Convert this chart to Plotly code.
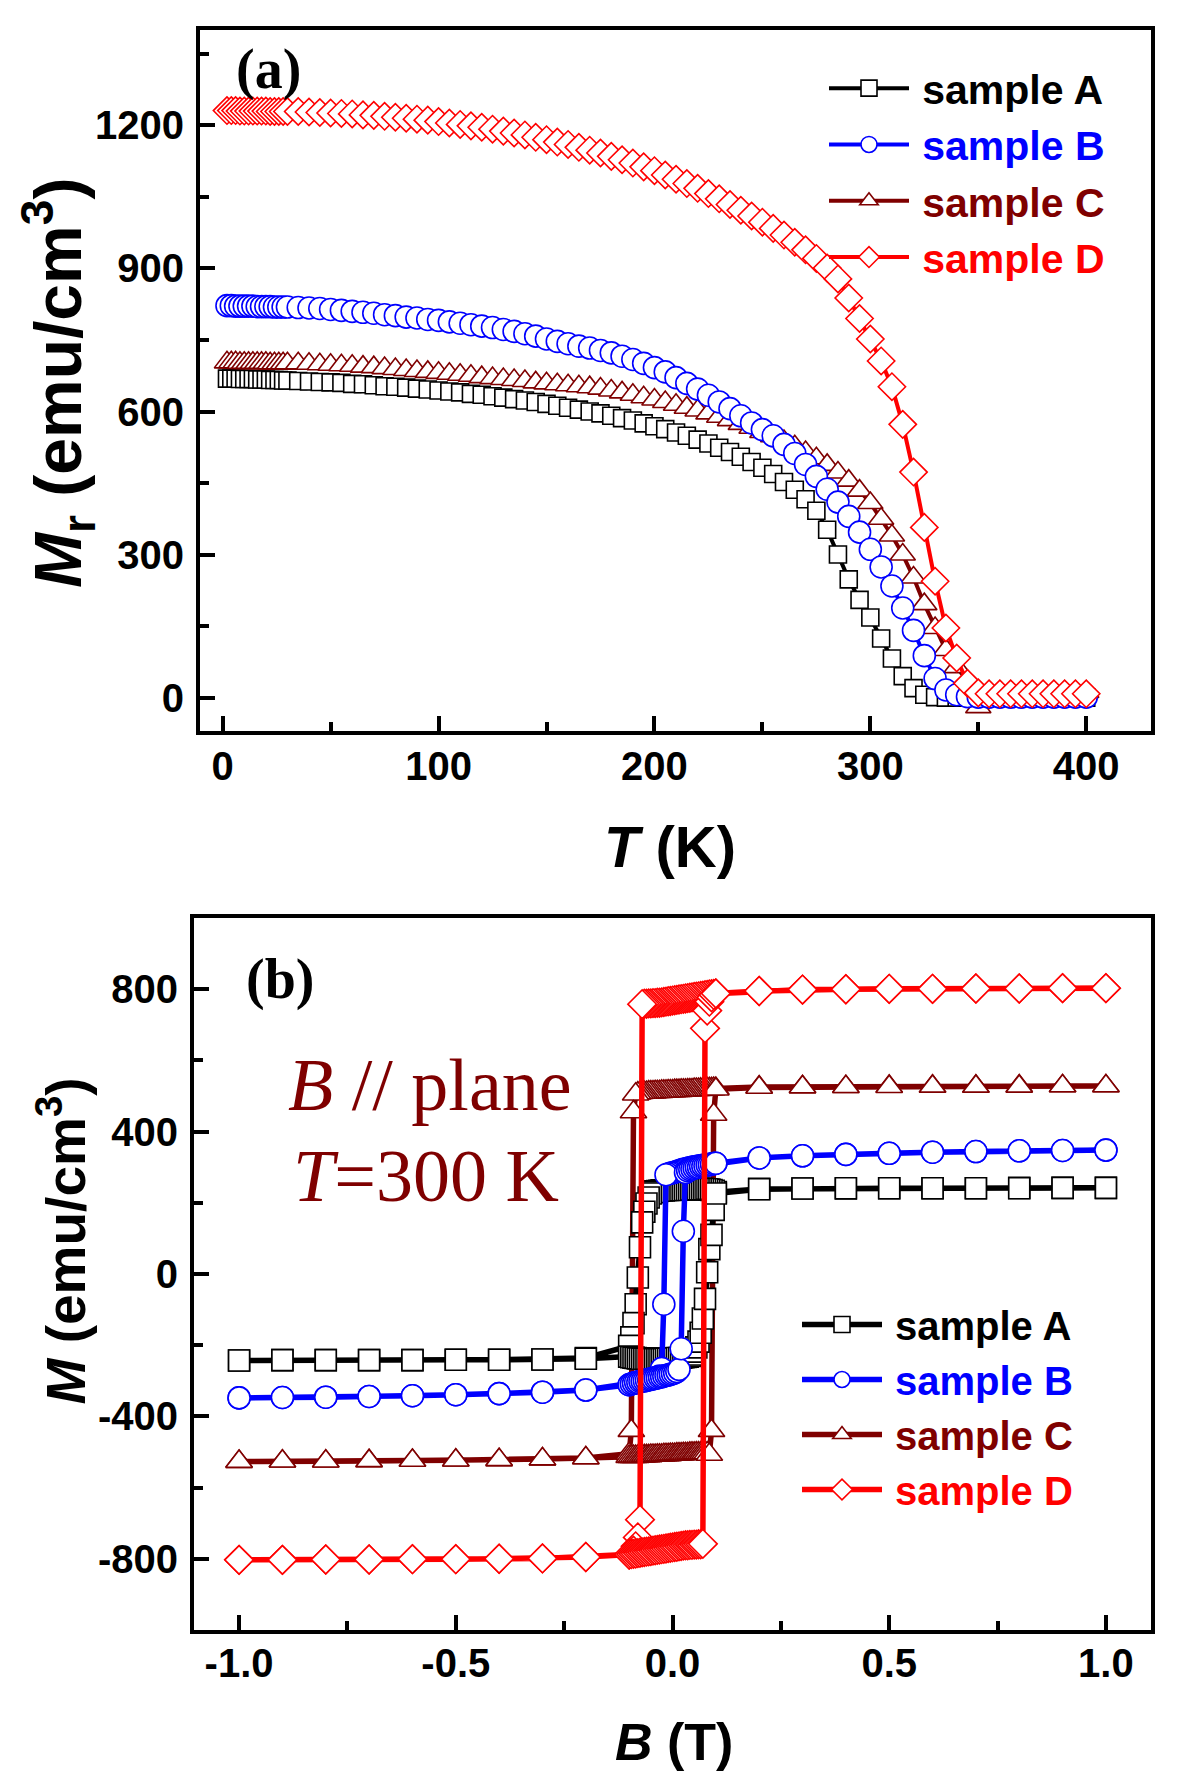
import plotly.graph_objects as go

# ---------------- Panel (a): remanent magnetization vs temperature ----------------
T = [2, 4, 6, 8, 10, 12, 14, 16, 18, 20, 22, 24, 26, 28, 30,
     35, 40, 45, 50, 55, 60, 65, 70, 75, 80, 85, 90, 95, 100,
     105, 110, 115, 120, 125, 130, 135, 140, 145, 150, 155, 160, 165, 170, 175, 180, 185, 190, 195, 200,
     205, 210, 215, 220, 225, 230, 235, 240, 245, 250, 255, 260, 265, 270, 275, 280, 285, 290, 295, 300,
     305, 310, 315, 320, 325, 330, 335, 340, 345, 350, 355, 360, 365, 370, 375, 380, 385, 390, 395, 400]

Mr_A = [669, 669, 669, 668, 668, 668, 668, 667, 667, 667, 666, 666, 666, 665, 665,
        664, 663, 662, 661, 660, 658, 657, 655, 653, 652, 650, 648, 646, 644,
        642, 640, 637, 635, 632, 629, 626, 623, 620, 616, 612, 608, 604, 600, 596, 591, 586, 581, 575, 569,
        563, 556, 549, 541, 533, 524, 515, 505, 494, 482, 469, 452, 436, 416, 392, 352, 300, 248, 205, 168,
        124, 82, 45, 20, 6, 1, 0, 0, 0, 0, 0, 0, 0, 0, 0, 0, 0, 0, 0, 0]

Mr_B = [822, 822, 821, 821, 821, 821, 821, 820, 820, 820, 820, 819, 819, 819, 819,
        818, 817, 816, 814, 812, 810, 808, 806, 803, 801, 798, 796, 793, 791,
        788, 785, 782, 779, 776, 772, 768, 763, 758, 752, 747, 742, 737, 733, 728, 723, 716, 709, 701, 692,
        683, 671, 659, 647, 634, 620, 606, 591, 576, 562, 549, 531, 512, 489, 464, 437, 410, 380, 347, 311,
        274, 234, 188, 141, 88, 40, 16, 6, 2, 1, 1, 1, 1, 1, 1, 1, 1, 1, 1, 1]

Mr_C = [703, 703, 703, 702, 702, 702, 702, 702, 702, 702, 701, 701, 701, 701, 701,
        701, 700, 699, 698, 697, 696, 694, 693, 691, 689, 687, 685, 683, 681,
        679, 677, 675, 672, 670, 668, 666, 664, 661, 659, 657, 655, 653, 651, 648, 644, 640, 635, 630, 625,
        620, 614, 608, 602, 596, 589, 582, 574, 566, 557, 548, 538, 527, 515, 502, 488, 472, 455, 434, 408,
        375, 340, 300, 252, 196, 146, 100, 64, 34, -20, 12, 12, 12, 12, 12, 12, 12, 12, 12, 12]

Mr_D = [1231, 1231, 1231, 1230, 1230, 1230, 1230, 1230, 1230, 1230, 1229, 1229, 1229, 1229, 1229,
        1229, 1228, 1227, 1226, 1225, 1224, 1222, 1221, 1219, 1217, 1215, 1213, 1211, 1208,
        1205, 1202, 1199, 1196, 1192, 1188, 1184, 1180, 1175, 1170, 1165, 1160, 1154, 1148, 1142, 1135, 1128, 1121, 1113, 1105,
        1096, 1087, 1078, 1068, 1057, 1046, 1034, 1022, 1010, 997, 984, 970, 955, 939, 921, 901, 878, 838, 795, 752,
        706, 652, 573, 473, 357, 244, 146, 83, 30, 10, 8, 8, 8, 8, 8, 8, 8, 8, 8, 8]

# ---------------- Panel (b): hysteresis loops at 300 K ----------------
B_desc = [1.0, 0.9, 0.8, 0.7, 0.6, 0.5, 0.4, 0.3, 0.2,
          0.1, 0.095, 0.09, 0.085, 0.08, 0.075, 0.07, 0.065, 0.06, 0.055,
          0.05, 0.045, 0.04, 0.035, 0.03, 0.025, 0.02, 0.015, 0.01, 0.005,
          0.0,
          -0.005, -0.01, -0.015, -0.02, -0.025, -0.03, -0.035, -0.04, -0.045, -0.05,
          -0.055, -0.06, -0.065, -0.07, -0.075, -0.08, -0.085, -0.09, -0.095, -0.1,
          -0.2, -0.3, -0.4, -0.5, -0.6, -0.7, -0.8, -0.9, -1.0]
B_asc = [-1.0, -0.9, -0.8, -0.7, -0.6, -0.5, -0.4, -0.3, -0.2,
         -0.1, -0.095, -0.09, -0.085, -0.08, -0.075, -0.07, -0.065, -0.06, -0.055,
         -0.05, -0.045, -0.04, -0.035, -0.03, -0.025, -0.02, -0.015, -0.01, -0.005,
         0.0,
         0.005, 0.01, 0.015, 0.02, 0.025, 0.03, 0.035, 0.04, 0.045, 0.05,
         0.055, 0.06, 0.065, 0.07, 0.075, 0.08, 0.085, 0.09, 0.095, 0.1,
         0.2, 0.3, 0.4, 0.5, 0.6, 0.7, 0.8, 0.9, 1.0]

M_A_desc = [242, 242, 242, 241, 241, 241, 240, 240, 239,
            230, 234, 236, 237, 238, 238, 239, 239, 239, 239,
            239, 239, 239, 239, 238, 238, 238, 238, 237, 237,
            237,
            236, 236, 236, 235, 235, 234, 233, 232, 230, 226,
            215, 198, 175, 145, 75, -10, -85, -138, -178, -202,
            -236, -240, -241, -241, -242, -242, -242, -242, -243]
M_A_asc = [-243, -242, -242, -242, -242, -241, -241, -240, -238,
           -232, -234, -235, -236, -237, -237, -238, -238, -238, -239,
           -239, -239, -239, -239, -239, -239, -239, -238, -238, -238,
           -237,
           -237, -236, -236, -235, -234, -233, -232, -230, -226, -218,
           -206, -190, -165, -125, -70, 5, 70, 110, 180, 226,
           238, 240, 241, 241, 241, 241, 241, 242, 242]

M_B_desc = [348, 347, 346, 344, 342, 339, 336, 332, 326,
            311, 310, 309, 308, 307, 306, 305, 304, 303, 302,
            301, 300, 298, 297, 295, 294, 292, 290, 288, 286,
            284,
            283, 281, 279, -85, -265, -287, -290, -292, -293, -295,
            -296, -298, -299, -300, -302, -304, -305, -307, -309, -311,
            -326, -332, -336, -339, -342, -344, -346, -347, -348]
M_B_asc = [-348, -347, -346, -344, -342, -339, -336, -332, -326,
           -311, -309, -307, -305, -304, -302, -301, -300, -299, -297,
           -296, -295, -293, -292, -290, -289, -287, -285, -284, -282,
           -280,
           -278, -274, -268, -210, 120, 285, 290, 293, 295, 297,
           299, 300, 302, 303, 304, 306, 307, 308, 310, 311,
           326, 332, 336, 339, 342, 344, 346, 347, 348]

M_C_desc = [528, 528, 528, 527, 527, 527, 526, 526, 525,
            521, 521, 520, 520, 520, 519, 519, 519, 518, 518,
            518, 517, 517, 517, 516, 516, 516, 515, 515, 515,
            514,
            514, 514, 513, 513, 513, 512, 512, 512, 511, 511,
            511, 510, 510, 510, 509, 508, 505, 455, -440, -505,
            -517, -520, -522, -523, -524, -525, -526, -526, -527]
M_C_asc = [-527, -526, -526, -525, -524, -523, -522, -520, -517,
           -513, -513, -513, -513, -512, -512, -512, -511, -511, -511,
           -510, -510, -510, -509, -509, -509, -508, -508, -508, -507,
           -507,
           -507, -506, -506, -506, -505, -505, -505, -504, -504, -504,
           -503, -503, -503, -502, -502, -503, -507, -440, 448, 519,
           524, 525, 526, 526, 527, 527, 527, 528, 528]

M_D_desc = [803, 803, 802, 802, 801, 801, 800, 799, 795,
            788, 787, 786, 785, 784, 783, 782, 781, 780, 779,
            778, 777, 776, 775, 774, 773, 772, 771, 770, 769,
            768,
            767, 766, 765, 764, 763, 762, 762, 761, 761, 760,
            760, 759, 759, 758, -690, -740, -765, -777, -784, -788,
            -795, -799, -800, -801, -801, -802, -802, -803, -803]
M_D_asc = [-803, -803, -802, -802, -801, -801, -800, -799, -795,
           -788, -787, -786, -785, -784, -783, -782, -781, -780, -779,
           -778, -777, -776, -775, -774, -773, -772, -771, -770, -769,
           -768,
           -767, -766, -765, -764, -763, -762, -762, -761, -761, -760,
           -760, -759, -759, -758, 690, 740, 765, 777, 784, 788,
           795, 799, 800, 801, 801, 802, 802, 803, 803]

# tick labels
xa_ticks = [0, 100, 200, 300, 400]
xa_minor = [50, 150, 250, 350]
ya_ticks = [0, 300, 600, 900, 1200]
ya_minor = [150, 450, 750, 1050, 1350]
xb_ticks = [-1.0, -0.5, 0.0, 0.5, 1.0]
xb_labels = ["-1.0", "-0.5", "0.0", "0.5", "1.0"]
xb_minor = [-0.75, -0.25, 0.25, 0.75]
yb_ticks = [-800, -400, 0, 400, 800]
yb_labels = ["-800", "-400", "0", "400", "800"]
yb_minor = [-600, -200, 200, 600]

names = ["sample A", "sample B", "sample C", "sample D"]
colors = ["#000000", "#0000FF", "#7F0000", "#FF0000"]
symbols = ["square", "circle", "triangle-up", "diamond"]

# page layout helpers (the page body has an 8px default margin)
W, H, OFF = 1192, 1765, 8
def px(x):
    return (x - OFF) / W
def py(y):
    return 1 - (y - OFF) / H

fig = go.Figure()

def legend_name(i):
    return "\u2009<span style='color:%s'>%s</span>" % (colors[i], names[i])

# panel (a) traces; draw order A, C, B, D
panel_a = {0: Mr_A, 1: Mr_B, 2: Mr_C, 3: Mr_D}
size_a = {0: 17, 1: 22, 2: 22, 3: 21}
for i in [0, 2, 1, 3]:
    fig.add_trace(go.Scatter(
        x=T, y=panel_a[i], mode="lines+markers", name=legend_name(i),
        line=dict(color=colors[i], width=4),
        marker=dict(symbol=symbols[i], size=size_a[i], color="white",
                    line=dict(color=colors[i], width=1.6)),
        xaxis="x", yaxis="y", legend="legend", legendrank=i + 1,
    ))

# panel (b) traces; draw order C, A, B, D
loops = {0: (M_A_desc, M_A_asc), 1: (M_B_desc, M_B_asc),
         2: (M_C_desc, M_C_asc), 3: (M_D_desc, M_D_asc)}
size_b = {0: 21, 1: 22, 2: 23, 3: 22}
for i in [2, 0, 1, 3]:
    md, ma = loops[i]
    fig.add_trace(go.Scatter(
        x=B_desc + B_asc, y=md + ma, mode="lines+markers", name=legend_name(i),
        line=dict(color=colors[i], width=5.5),
        marker=dict(symbol=symbols[i], size=size_b[i], color="white",
                    line=dict(color=colors[i], width=1.6)),
        xaxis="x2", yaxis="y2", legend="legend2", legendrank=i + 1,
    ))

tickfont = dict(family="Liberation Sans, Arial", size=40, color="black", weight="bold")
common = dict(showline=True, linewidth=4, linecolor="black", mirror=True,
              ticks="inside", ticklen=15, tickwidth=4, tickcolor="black",
              showgrid=False, zeroline=False, tickfont=tickfont, automargin=False,
              tickmode="array")
minor_common = dict(ticks="inside", ticklen=9, tickwidth=4, tickcolor="black", showgrid=False)

fig.update_layout(
    width=W, height=H,
    margin=dict(l=0, r=0, t=0, b=0),
    paper_bgcolor="white", plot_bgcolor="white",
    showlegend=True,
    xaxis=dict(domain=[px(200), px(1151)], anchor="y", range=[-10.5, 430],
               tickvals=xa_ticks, ticktext=[str(v) for v in xa_ticks], ticklabelstandoff=-3,
               minor=dict(tickvals=xa_minor, **minor_common), **common),
    yaxis=dict(domain=[py(731), py(30)], anchor="x", range=[-70, 1400],
               tickvals=ya_ticks, ticktext=[str(v) for v in ya_ticks], ticklabelstandoff=4,
               minor=dict(tickvals=ya_minor, **minor_common), **common),
    xaxis2=dict(domain=[px(194), px(1151)], anchor="y2", range=[-1.104, 1.104],
                tickvals=xb_ticks, ticktext=xb_labels, ticklabelstandoff=-5,
                minor=dict(tickvals=xb_minor, **minor_common), **common),
    yaxis2=dict(domain=[py(1630), py(918)], anchor="x2", range=[-1000, 1000],
                tickvals=yb_ticks, ticktext=yb_labels, ticklabelstandoff=4,
                minor=dict(tickvals=yb_minor, **minor_common), **common),
    legend=dict(x=px(824), y=py(55), xanchor="left", yanchor="top",
                font=dict(family="Liberation Sans, Arial", size=41, color="black", weight="bold"),
                bgcolor="rgba(0,0,0,0)", itemwidth=80, tracegroupgap=0, traceorder="normal"),
    legend2=dict(x=px(797), y=py(1292), xanchor="left", yanchor="top",
                 font=dict(family="Liberation Sans, Arial", size=40, color="black", weight="bold"),
                 bgcolor="rgba(0,0,0,0)", itemwidth=80, tracegroupgap=0, traceorder="normal"),
)

def sans(size):
    return dict(family="Liberation Sans, Arial", size=size, color="black", weight="bold")
serif_bold = dict(family="Liberation Serif, Times New Roman", size=56, color="black", weight="bold")
serif_red = dict(family="Liberation Serif, Times New Roman", size=74, color="#7F0000")

annotations = [
    dict(text="<i>T</i> (K)", x=px(670), y=py(846), font=sans(58)),
    dict(text="<i>B</i> (T)", x=px(674), y=py(1742), font=sans(52)),
    dict(text="<i>M</i><sub>r</sub> (emu/cm<sup>3</sup>)", x=px(58), y=py(383),
         textangle=-90, font=sans(66)),
    dict(text="<i>M</i> (emu/cm<sup>3</sup>)", x=px(62.4), y=py(1241),
         textangle=-90, font=sans(55)),
    dict(text="(a)", x=px(268), y=py(69), font=serif_bold),
    dict(text="(b)", x=px(280), y=py(979), font=serif_bold),
    dict(text="<i>B</i> // plane", x=px(286), y=py(1085), xanchor="left", font=serif_red),
    dict(text="<i>T</i>=300 K", x=px(291), y=py(1176), xanchor="left", font=serif_red),
]
for a in annotations:
    a.setdefault("xanchor", "center")
    fig.add_annotation(xref="paper", yref="paper", yanchor="middle",
                       showarrow=False, **a)

fig.write_html("out.html", config={"displayModeBar": False})
